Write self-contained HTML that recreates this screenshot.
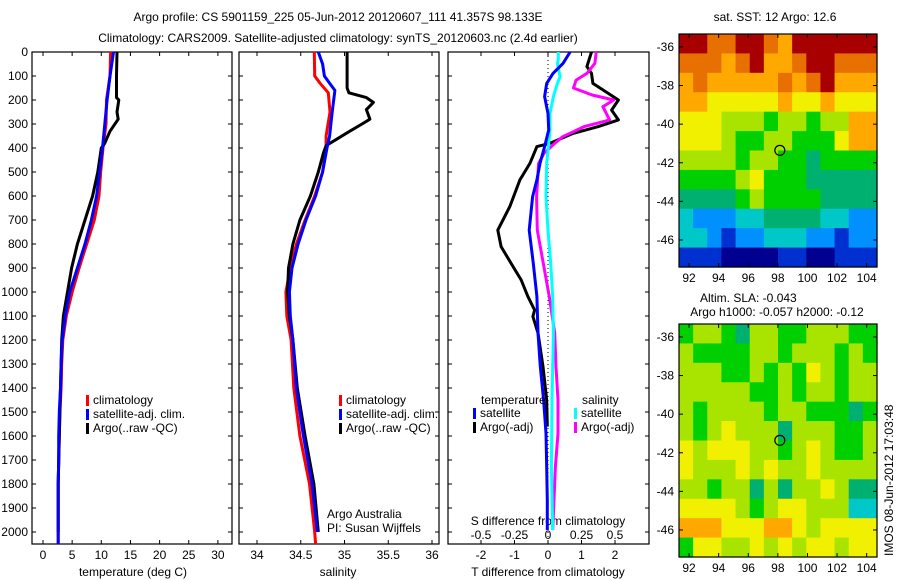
<!DOCTYPE html>
<html><head><meta charset="utf-8">
<style>
html,body{margin:0;padding:0;background:#fff;}
svg{display:block;font-family:"Liberation Sans",Arial,sans-serif;}
text{font-size:12px;fill:#000;}
</style></head>
<body>
<svg id="fig" width="900" height="580" viewBox="0 0 900 580" xmlns="http://www.w3.org/2000/svg">
<text x="338" y="21" text-anchor="middle">Argo profile: CS 5901159_225 05-Jun-2012 20120607_111 41.357S 98.133E</text>
<text x="338" y="42" text-anchor="middle">Climatology: CARS2009. Satellite-adjusted climatology: synTS_20120603.nc (2.4d earlier)</text>
<g id="g1"></g>
<g id="g2"></g>
<g id="g3"></g>
<g id="g4"></g>
<g id="g5"></g>
<text x="775" y="21" text-anchor="middle">sat. SST: 12 Argo: 12.6</text>
<text x="700" y="302">Altim. SLA: -0.043</text>
<text x="777" y="316" text-anchor="middle">Argo h1000: -0.057 h2000: -0.12</text>
<text transform="translate(893,556) rotate(-90)">IMOS 08-Jun-2012 17:03:48</text>
</svg>
<script>
// ---- data ----
const tempClimDepth=[0,100,200,300,400,500,600,700,800,900,1000,1100,1200,1300,1400,1500,1600,1700,1800,1900,2000,2050];
const tempClim=[11.6,11.5,10.9,10.8,10.3,9.9,9.6,8.8,7.5,6.2,5.0,4.0,3.4,3.2,3.1,2.9,2.8,2.7,2.6,2.6,2.6,2.6];
const tempSat=[12.1,11.5,11.0,10.6,10.2,9.7,9.2,8.3,7.2,5.9,4.6,3.8,3.3,3.1,3.0,2.8,2.7,2.7,2.6,2.6,2.6,2.6];
const tempArgoDepth=[0,100,190,200,250,280,330,380,400,500,600,700,800,900,1000,1100,1200,1400,1600,1800,2000];
const tempArgo=[12.7,12.6,12.6,13.0,12.7,12.9,11.5,10.6,10.0,9.4,8.5,7.2,5.9,4.9,4.2,3.5,3.2,3.0,2.8,2.6,2.6];

const salClimDepth=[0,100,130,170,250,350,400,500,600,700,800,900,1000,1100,1200,1400,1600,1800,2000,2050];
const salClim=[34.655,34.66,34.72,34.815,34.834,34.79,34.79,34.75,34.66,34.55,34.45,34.38,34.33,34.34,34.39,34.42,34.49,34.60,34.66,34.67];
const salSatDepth=[0,50,100,130,160,250,350,400,500,600,700,800,900,1000,1100,1200,1400,1600,1800,2000];
const salSat=[34.70,34.75,34.77,34.83,34.89,34.86,34.83,34.80,34.75,34.67,34.56,34.47,34.40,34.37,34.38,34.41,34.45,34.53,34.63,34.69];
const salArgoDepth=[0,150,170,190,210,240,280,300,330,370,390,420,500,600,700,800,900,1000,1100,1200,1400,1600,1800,2000];
const salArgo=[35.03,35.03,35.05,35.25,35.33,35.25,35.29,35.20,35.06,34.88,34.79,34.76,34.70,34.61,34.49,34.41,34.36,34.35,34.37,34.41,34.46,34.55,34.65,34.70];

const dTDepth=[0,47,89,131,186,256,325,394,464,533,603,742,881,1019,1171,1311,1450,1589,1728,1867,1992];
const dTSat=[0.66,0.45,0.15,-0.04,-0.1,0,0.02,-0.1,-0.24,-0.33,-0.46,-0.56,-0.44,-0.33,-0.3,-0.23,-0.13,-0.06,-0.04,-0.02,-0.02];
const dTArgoDepth=[0,61,89,131,158,200,242,283,311,339,381,394,464,533,644,742,811,881,950,1019,1075,1102,1171,1311,1450,1561];
const dTArgo=[1.3,1.16,1.3,1.34,1.64,2.1,1.9,2.1,1.5,0.75,0.05,-0.33,-0.54,-0.84,-1.14,-1.5,-1.4,-1.1,-0.8,-0.6,-0.4,-0.45,-0.3,-0.15,-0.04,-0.02];
const dSDepth=[0,33,47,103,131,186,256,325,464,603,742,881,1019,1171,1450,1728,1992];
const dSSat=[0.077,0.077,0.07,0.09,0.07,0.04,0.015,0.015,-0.01,-0.015,0,0.02,0.035,0.04,0.03,0.025,0.035];
const dSArgoDepth=[0,47,89,117,150,179,200,228,283,311,353,381,422,464,603,742,881,1019,1171,1311,1450,1589,1728,1867,1992];
const dSArgo=[0.36,0.35,0.29,0.21,0.19,0.33,0.49,0.41,0.46,0.27,0.11,0.05,-0.03,-0.07,-0.085,-0.08,-0.035,0.01,0.05,0.06,0.075,0.075,0.055,0.045,0.035];

const depthTicks=[0,100,200,300,400,500,600,700,800,900,1000,1100,1200,1300,1400,1500,1600,1700,1800,1900,2000];
const tempTicks=[0,5,10,15,20,25,30];
const salTicks=[34,34.5,35,35.5,36];
const salTickLabels=["34","34.5","35","35.5","36"];
const dTTicks=[-2,-1,0,1,2];
const dSTicks=[-0.5,-0.25,0,0.25,0.5];
const dSTickLabels=["-0.5","-0.25","0","0.25","0.5"];
const latTicks=[-36,-38,-40,-42,-44,-46];
const lonTicks=[92,94,96,98,100,102,104];
const argoLon=98.133, argoLat=-41.357;

const sstGrid=[
[10,10,9,9,10,10,9,8,10,10,10,10,10,10],
[9,9,9,8,9,10,8,8,9,10,10,9,9,9],
[8,9,8,8,8,8,8,9,8,9,10,8,8,8],
[8,8,7,7,7,7,7,8,7,7,8,7,7,7],
[7,7,7,6,6,6,5,6,6,5,6,6,8,8],
[7,7,7,6,5,5,6,6,5,5,5,7,8,8],
[6,6,6,6,5,6,6,5,5,4,5,5,5,5],
[5,5,5,5,6,7,5,5,5,4,4,4,4,4],
[4,4,4,4,5,6,5,5,5,5,4,4,4,4],
[3,2,2,2,3,3,4,4,4,4,3,3,2,2],
[3,3,2,1,2,2,3,3,3,2,2,1,2,2],
[1,1,1,0,0,0,0,1,1,0,0,1,1,1]];
const slaGrid=[
[5,6,6,5,4,6,6,5,5,6,6,6,5,5],
[6,5,5,5,5,6,6,5,6,6,6,5,6,5],
[6,6,6,5,5,6,5,6,5,7,6,5,6,6],
[6,6,6,6,6,5,5,6,5,6,6,5,6,6],
[6,5,6,6,6,6,5,6,6,5,5,5,4,5],
[6,5,6,7,6,6,6,4,6,6,6,5,5,6],
[7,6,7,7,7,6,6,5,6,7,6,5,5,6],
[7,6,6,6,7,6,7,6,6,7,6,6,6,6],
[6,6,5,6,6,4,6,4,6,6,7,6,4,4],
[7,7,7,7,6,5,6,7,7,6,6,6,3,3],
[8,8,8,7,7,7,8,8,7,6,7,7,7,7],
[5,7,7,6,6,7,6,7,6,7,7,6,7,7]];
const jet=["#000090","#0030d0","#0090ff","#00c8c8","#00b070","#00d000","#a8e400","#f0f000","#ffa800","#e87000","#a80000"];

// ---- drawing ----
const NS="http://www.w3.org/2000/svg";
function el(parent,tag,attrs){const e=document.createElementNS(NS,tag);for(const k in attrs)e.setAttribute(k,attrs[k]);parent.appendChild(e);return e;}
const Y0=52, DSCALE=0.24, YB=544;
const yD=d=>Y0+d*DSCALE;

function frame(g,x0,x1,y0,y1){
  const r=el(g,'rect',{x:x0,y:y0,width:x1-x0,height:y1-y0,fill:'none',stroke:'#000','stroke-width':1.2});
  
  
}
function depthTicksDraw(g,x0,x1,labels){
  depthTicks.forEach(d=>{
    const y=yD(d);
    el(g,'line',{x1:x0,y1:y,x2:x0+4,y2:y,stroke:'#000'});
    el(g,'line',{x1:x1-4,y1:y,x2:x1,y2:y,stroke:'#000'});
    if(labels){const t=el(g,'text',{x:x0-4,y:y+4,'text-anchor':'end'});t.textContent=d;
      
      }
  });
}
function xTicks(g,vals,labs,fx,y0,y1,ly){
  vals.forEach((v,i)=>{const x=fx(v);
    el(g,'line',{x1:x,y1:y1,x2:x,y2:y1-4,stroke:'#000'});
    el(g,'line',{x1:x,y1:y0,x2:x,y2:y0+4,stroke:'#000'});
    if(ly!=null){const t=el(g,'text',{x:x,y:ly,'text-anchor':'middle'});t.textContent=labs[i];
      
      }
  });
}
function line(g,xs,ds,fx,color,name,w){
  const pts=xs.map((v,i)=>fx(v).toFixed(1)+','+yD(ds[i]).toFixed(1)).join(' ');
  const p=el(g,'polyline',{points:pts,fill:'none',stroke:color,'stroke-width':w||3,'stroke-linejoin':'round'});
  
  
}
function legend(g,x,y,items){
  items.forEach((it,i)=>{
    el(g,'rect',{x:x,y:y+i*14-9,width:3,height:11,fill:it[0]});
    const t=el(g,'text',{x:x+7,y:y+i*14});t.textContent=it[1];
    
    
  });
}
function label(g,x,y,s,name,anchor){const t=el(g,'text',{x:x,y:y,'text-anchor':anchor||'middle'});t.textContent=s;
  
  return t;}

// Panel 1: temperature
const g1=document.getElementById('g1');
const fT=v=>43+v*5.83;
frame(g1,32,232,Y0,YB);depthTicksDraw(g1,32,232,true);
xTicks(g1,tempTicks,tempTicks.map(String),fT,Y0,YB,559);
line(g1,tempClim,tempClimDepth,fT,'#ff0000','temp-climatology-line');
line(g1,tempArgo,tempArgoDepth,fT,'#000000','temp-argo-line');
line(g1,tempSat,tempClimDepth,fT,'#0000ff','temp-satellite-line');
label(g1,133,576,'temperature (deg C)','x-axis-title-temperature');
legend(g1,86,404,[['#ff0000','climatology'],['#0000ff','satellite-adj. clim.'],['#000','Argo(..raw -QC)']]);

// Panel 2: salinity
const g2=document.getElementById('g2');
const fS=v=>257+(v-34)*87.5;
frame(g2,239,439,Y0,YB);depthTicksDraw(g2,239,439,false);
xTicks(g2,salTicks,salTickLabels,fS,Y0,YB,559);
line(g2,salClim,salClimDepth,fS,'#ff0000','sal-climatology-line');
line(g2,salArgo,salArgoDepth,fS,'#000000','sal-argo-line');
line(g2,salSat,salSatDepth,fS,'#0000ff','sal-satellite-line');
label(g2,338,576,'salinity','x-axis-title-salinity');
legend(g2,339,404,[['#ff0000','climatology'],['#0000ff','satellite-adj. clim.'],['#000','Argo(..raw -QC)']]);
label(g2,327,518,'Argo Australia','credit-argo-australia','start');
label(g2,327,532,'PI: Susan Wijffels','credit-pi','start');

// Panel 3: differences
const g3=document.getElementById('g3');
const fdT=v=>548+v*33.5, fdS=v=>548+v*134;
frame(g3,448,649,Y0,YB);depthTicksDraw(g3,448,649,false);
xTicks(g3,dTTicks,dTTicks.map(String),fdT,Y0,YB,559);
el(g3,'line',{x1:fdT(0),y1:Y0,x2:fdT(0),y2:YB,stroke:'#000','stroke-dasharray':'1,3'});
dSTicks.forEach((v,i)=>{label(g3,fdS(v),539,dSTickLabels[i],'s-tick-label');});
label(g3,548,525,'S difference from climatology','s-axis-title');
label(g3,548,576,'T difference from climatology','t-axis-title');
line(g3,dTArgo,dTArgoDepth,fdT,'#000000','dT-argo-line');
line(g3,dSArgo,dSArgoDepth,fdS,'#ff00ff','dS-argo-line');
line(g3,dSSat,dSDepth,fdS,'#00ffff','dS-satellite-line');
line(g3,dTSat,dTDepth,fdT,'#0000ff','dT-satellite-line');
label(g3,481,404,'temperature','legend-temperature-header','start');
label(g3,582,404,'salinity','legend-salinity-header','start');
legend(g3,473,417,[['#0000ff','satellite'],['#000','Argo(-adj)']]);
legend(g3,574,417,[['#00ffff','satellite'],['#ff00ff','Argo(-adj)']]);

// Maps
function map(g,grid,top,bottom,name){
  const x0=679,x1=877,lonL=91.32,pxDeg=14.8;
  const latT=-35.33, pxLat=(bottom-top)/12.07;
  const fx=lo=>x0+(lo-lonL)*pxDeg, fy=la=>top+(latT-la)*pxLat;
  const cw=(x1-x0)/grid[0].length, ch=(bottom-top)/grid.length;
  grid.forEach((row,r)=>row.forEach((v,c)=>{
    const cell=el(g,'rect',{x:(x0+c*cw).toFixed(2),y:(top+r*ch).toFixed(2),width:(cw+0.6).toFixed(2),height:(ch+0.6).toFixed(2),fill:jet[v]});
    
    
  }));
  frame(g,x0,x1,top,bottom);
  latTicks.forEach(la=>{const y=fy(la);
    el(g,'line',{x1:x0,y1:y,x2:x0+4,y2:y,stroke:'#000'});el(g,'line',{x1:x1-4,y1:y,x2:x1,y2:y,stroke:'#000'});
    label(g,x0-5,y+4,String(la),'lat-tick-label','end');});
  lonTicks.forEach(lo=>{const x=fx(lo);
    el(g,'line',{x1:x,y1:bottom,x2:x,y2:bottom-4,stroke:'#000'});el(g,'line',{x1:x,y1:top,x2:x,y2:top+4,stroke:'#000'});
    label(g,x,bottom+15,String(lo),'lon-tick-label');});
  const c=el(g,'circle',{cx:fx(argoLon),cy:fy(argoLat),r:5,fill:'none',stroke:'#000','stroke-width':1.2});
  
  
}
map(document.getElementById('g4'),sstGrid,34,267,'sst');
map(document.getElementById('g5'),slaGrid,324,557,'sla');
</script>
</body></html>
